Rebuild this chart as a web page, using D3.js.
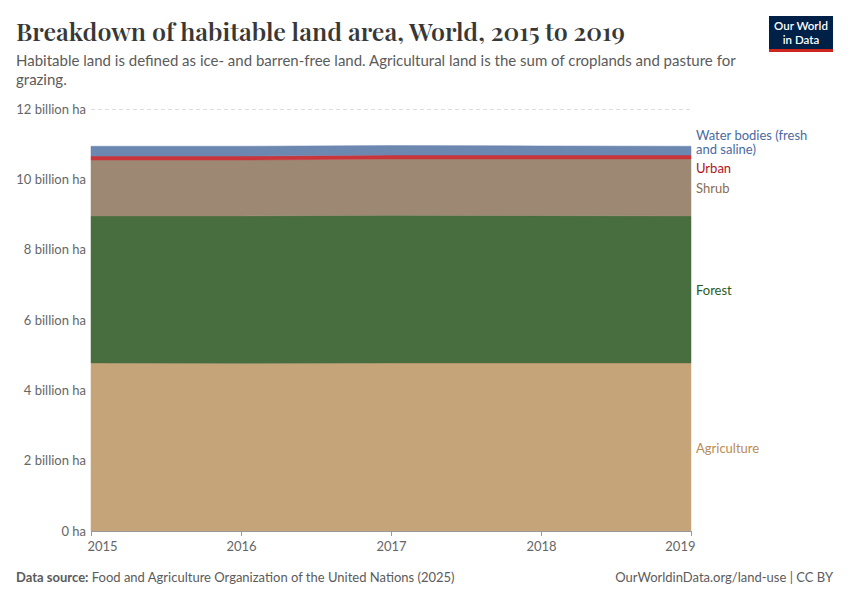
<!DOCTYPE html>
<html>
<head>
<meta charset="utf-8">
<script src="https://cdn.jsdelivr.net/npm/d3@7"></script>
<style>
  body { margin: 0; background: #fff; }
  svg { font-family: Lato, "Noto Sans", sans-serif; }
</style>
</head>
<body>
<div id="chart"></div>
<script>
// data (billion hectares)
const years = [2015, 2016, 2017, 2018, 2019];
const agriculture = [4.78, 4.77, 4.78, 4.78, 4.78];
const forest = [4.18, 4.19, 4.20, 4.19, 4.18];
const shrub = [1.59, 1.59, 1.60, 1.61, 1.62];
const urban = [0.11, 0.11, 0.11, 0.11, 0.11];
const water = [0.28, 0.28, 0.27, 0.26, 0.25];
const yTicks = [0, 2, 4, 6, 8, 10, 12];

const seriesNames = ["Agriculture", "Forest", "Shrub", "Urban", "Water bodies (fresh and saline)"];
const seriesValues = [agriculture, forest, shrub, urban, water];
const fills = ["#c6a47a", "#486d3f", "#9d8973", "#c9353b", "#6c87b0"];
const labelColors = ["#b98b55", "#2c5a23", "#8a6c4f", "#b3131b", "#4a6aa0"];

const width = 850, height = 600;
const margin = { left: 91, right: 159, top: 109, bottom: 69 };

const svg = d3.select("#chart").append("svg")
    .attr("width", width)
    .attr("height", height);

// title + subtitle
svg.append("text")
    .attr("x", 16).attr("y", 41)
    .attr("font-family", "'Playfair Display', 'Liberation Serif', serif")
    .attr("font-size", 25)
    .attr("font-weight", 600)
    .attr("fill", "#383838")
    .attr("textLength", 609)
    .attr("lengthAdjust", "spacingAndGlyphs")
    .text("Breakdown of habitable land area, World, 2015 to 2019");

const sub = svg.append("text")
    .attr("font-size", 15)
    .attr("fill", "#5b5b5b");
sub.append("tspan").attr("x", 16).attr("y", 66)
    .text("Habitable land is defined as ice- and barren-free land. Agricultural land is the sum of croplands and pasture for");
sub.append("tspan").attr("x", 16).attr("y", 85).text("grazing.");

// logo
const logo = svg.append("g").attr("transform", "translate(769,16)");
logo.append("rect").attr("width", 64).attr("height", 36).attr("fill", "#002147");
logo.append("rect").attr("y", 33).attr("width", 64).attr("height", 3).attr("fill", "#ce261e");
logo.append("text").attr("x", 32).attr("y", 14).attr("text-anchor", "middle")
    .attr("fill", "#fff").attr("font-size", 11.5).attr("font-weight", 600).text("Our World");
logo.append("text").attr("x", 32).attr("y", 28).attr("text-anchor", "middle")
    .attr("fill", "#fff").attr("font-size", 11.5).attr("font-weight", 600).text("in Data");

// scales
const x = d3.scaleLinear()
    .domain([2015, 2019])
    .range([margin.left, width - margin.right]);
const y = d3.scaleLinear()
    .domain([0, 12])
    .range([height - margin.bottom, margin.top]);

// gridlines + y labels
const yAxis = svg.append("g")
    .attr("transform", `translate(${margin.left},0)`)
    .call(d3.axisLeft(y).tickValues(yTicks)
        .tickSize(-(width - margin.right - margin.left))
        .tickFormat(d => d === 0 ? "0 ha" : d + " billion ha"));
yAxis.select(".domain").remove();
yAxis.selectAll(".tick line")
    .attr("stroke", "#dddddd")
    .attr("stroke-dasharray", "4,3");
yAxis.selectAll(".tick text")
    .attr("x", -5)
    .attr("dy", "0.32em")
    .attr("fill", "#666")
    .attr("font-size", 13)
    .attr("font-family", "Lato, sans-serif");

// stacked areas
const table = years.map((yr, i) => {
    const row = { year: yr };
    seriesNames.forEach((n, j) => row[n] = seriesValues[j][i]);
    return row;
});
const stacked = d3.stack().keys(seriesNames)(table);

const area = d3.area()
    .x(d => x(d.data.year))
    .y0(d => y(d[0]))
    .y1(d => y(d[1]));

svg.append("g").selectAll("path")
    .data(stacked)
    .enter().append("path")
    .attr("d", area)
    .attr("fill", (d, i) => fills[i])
    .attr("stroke", (d, i) => fills[i])
    .attr("stroke-width", 0.5);

// x axis
const xAxis = svg.append("g")
    .attr("transform", `translate(0,${y(0)})`)
    .call(d3.axisBottom(x).tickValues(years).tickFormat(d3.format("d")).tickSize(5));
xAxis.select(".domain").attr("stroke", "#999");
xAxis.selectAll(".tick line").attr("stroke", "#999");
xAxis.selectAll(".tick text")
    .attr("fill", "#666")
    .attr("font-size", 13)
    .attr("font-family", "Lato, sans-serif")
    .attr("dy", "0.9em");
xAxis.selectAll(".tick text").filter(d => d === 2015).attr("text-anchor", "start").attr("dx", -4);
xAxis.selectAll(".tick text").filter(d => d === 2019).attr("text-anchor", "end").attr("dx", 4);

// right-hand series labels
const labelY = [448, 290, 188, 168, 135];
const labels = svg.append("g").attr("font-size", 13);
seriesNames.forEach((n, i) => {
    const t = labels.append("text")
        .attr("x", x(2019) + 5)
        .attr("y", labelY[i])
        .attr("dy", "0.35em")
        .attr("fill", labelColors[i]);
    if (i === 4) {
        t.append("tspan").attr("x", x(2019) + 5).text("Water bodies (fresh");
        t.append("tspan").attr("x", x(2019) + 5).attr("dy", "1.1em").text("and saline)");
    } else {
        t.text(n);
    }
});

// footer
const foot = svg.append("text").attr("x", 16).attr("y", 582)
    .attr("font-size", 13).attr("fill", "#5b5b5b");
foot.append("tspan").attr("font-weight", 700).text("Data source:");
foot.append("tspan").text(" Food and Agriculture Organization of the United Nations (2025)");
svg.append("text").attr("x", 833).attr("y", 582).attr("text-anchor", "end")
    .attr("font-size", 13).attr("fill", "#5b5b5b")
    .text("OurWorldinData.org/land-use | CC BY");
</script>
</body>
</html>
